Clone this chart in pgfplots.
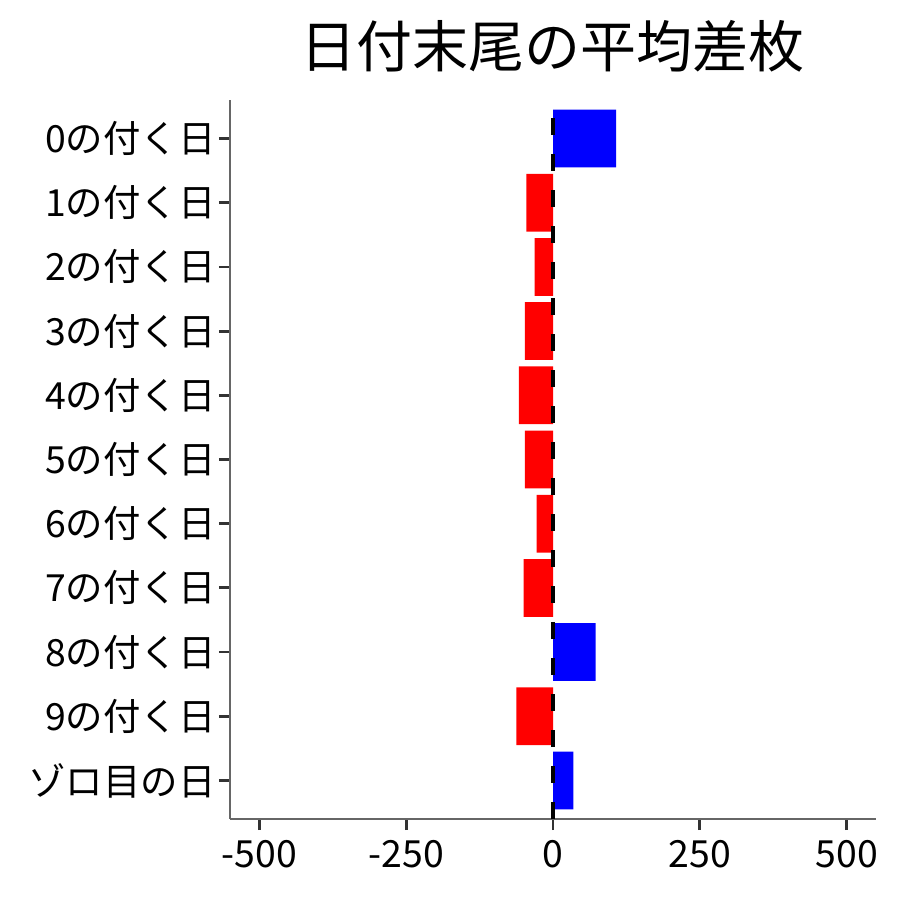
\documentclass[border=0pt]{standalone}
\usepackage{pgfplots}
\pgfplotsset{compat=1.18}
\usepackage{fontspec}
\setmainfont{Noto Sans CJK JP}
\definecolor{barblue}{HTML}{0000FF}
\definecolor{barred}{HTML}{FF0000}
\begin{document}
\begin{tikzpicture}
\path[use as bounding box] (-115pt,-40.5pt) rectangle (335pt,409.5pt);
\begin{axis}[
  at={(0,0)}, anchor=south west,
  scale only axis,
  width=323pt, height=359.5pt,
  xmin=-550, xmax=550,
  ymin=-0.6, ymax=10.6,
  axis lines*=left,
  axis line style={black!60, line width=0.6pt},
  xtick={-500,-250,0,250,500},
  xticklabels={-500,-250,0,250,500},
  ytick={0,1,2,3,4,5,6,7,8,9,10},
  yticklabels={ゾロ目の日,9の付く日,8の付く日,7の付く日,6の付く日,5の付く日,4の付く日,3の付く日,2の付く日,1の付く日,0の付く日},
  tick align=outside,
  major tick length=5.5pt,
  tick style={black!80, line width=1.4pt},
  ticklabel style={font=\fontsize{18.7}{20}\selectfont, text=black},
  yticklabel style={inner sep=0pt, xshift=-1.5pt},
  xticklabel style={inner sep=0pt, yshift=-5pt},
  clip=false,
]
\addplot[xbar, bar width=0.9, bar shift=0pt, draw=none, fill=barblue] coordinates {(107.5,10) (72.5,2) (34.5,0)};
\addplot[xbar, bar width=0.9, bar shift=0pt, draw=none, fill=barred] coordinates {(-45.5,9) (-31.5,8) (-48,7) (-58,6) (-48,5) (-28,4) (-50,3) (-62.5,1)};
\addplot[sharp plot, black, line width=2pt, dash pattern=on 8.5pt off 9.5pt] coordinates {(0,-0.6) (0,10.6)};
\end{axis}
\node[font=\fontsize{28}{30}\selectfont, anchor=center] at (161.5pt,386.5pt) {日付末尾の平均差枚};
\end{tikzpicture}
\end{document}
